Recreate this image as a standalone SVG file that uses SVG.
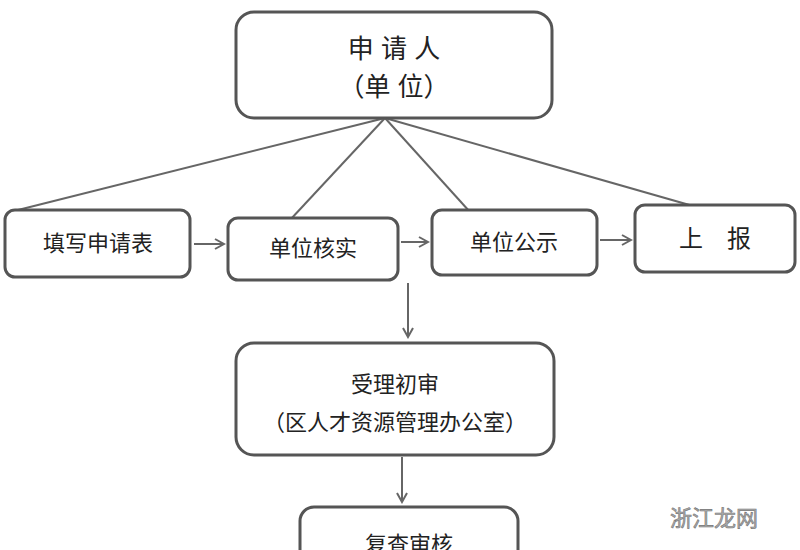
<svg xmlns="http://www.w3.org/2000/svg" width="800" height="550" viewBox="0 0 800 550">
<style>
.b{fill:#fff;stroke:#555;stroke-width:3}
.t{font-family:"Liberation Sans","Noto Sans CJK SC",sans-serif;fill:#222;text-anchor:middle}
.c{stroke:#666;stroke-width:2;fill:none}
</style>
<defs><marker id="a" markerWidth="12" markerHeight="12" refX="10" refY="6" orient="auto" markerUnits="userSpaceOnUse"><path d="M1,1 L10,6 L1,11" fill="none" stroke="#666" stroke-width="2"/></marker></defs>
<rect width="800" height="550" fill="#fff"/>
<g id="connectors">
<line class="c" x1="385" y1="118" x2="10" y2="212"/>
<line class="c" x1="385" y1="118" x2="290" y2="220"/>
<line class="c" x1="385" y1="118" x2="470" y2="212"/>
<line class="c" x1="385" y1="118" x2="700" y2="208"/>
<line class="c" x1="194" y1="244" x2="224" y2="244" marker-end="url(#a)"/>
<line class="c" x1="401" y1="242" x2="428" y2="242" marker-end="url(#a)"/>
<line class="c" x1="600" y1="240" x2="631" y2="240" marker-end="url(#a)"/>
<line class="c" x1="408" y1="283" x2="408" y2="337" marker-end="url(#a)"/>
<line class="c" x1="402" y1="457" x2="402" y2="502" marker-end="url(#a)"/>
</g>
<g id="n1"><rect class="b" x="236" y="12" width="316" height="106" rx="18"/><text class="t" x="394" y="58" font-size="26">申 请 人</text><text class="t" x="394" y="96" font-size="26">（单 位）</text></g>
<g id="n2"><rect class="b" x="5" y="210" width="185" height="67" rx="10"/><text class="t" x="98" y="251" font-size="22">填写申请表</text></g>
<g id="n3"><rect class="b" x="228" y="218" width="170" height="62" rx="10"/><text class="t" x="313" y="256" font-size="22">单位核实</text></g>
<g id="n4"><rect class="b" x="432" y="210" width="165" height="65" rx="10"/><text class="t" x="514" y="250" font-size="22">单位公示</text></g>
<g id="n5"><rect class="b" x="635" y="205" width="160" height="67" rx="10"/><text class="t" x="715" y="247" font-size="24">上　报</text></g>
<g id="n6"><rect class="b" x="236" y="343" width="318" height="112" rx="18"/><text class="t" x="395" y="392" font-size="22">受理初审</text><text class="t" x="395" y="430" font-size="22">（区人才资源管理办公室）</text></g>
<g id="n7"><rect class="b" x="300" y="507" width="218" height="70" rx="14"/><text class="t" x="409" y="552" font-size="22">复查审核</text></g>
<text x="714" y="526" font-size="22" class="t" style="fill:#aaa;stroke:#777;stroke-width:0.6">浙江龙网</text>
</svg>
